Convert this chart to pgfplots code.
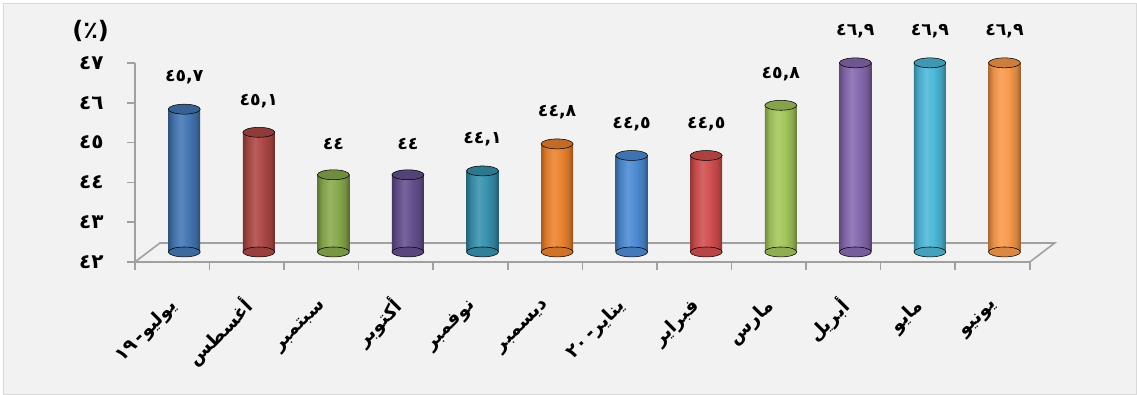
\documentclass[border=0pt]{standalone}
\usepackage{pgfplots}
\pgfplotsset{compat=1.18}
\usepackage{fontspec}
\newfontfamily\arabicfont[Script=Arabic]{DejaVu Sans}
\TeXXeTstate=1
\definecolor{bgc}{HTML}{F2F2F2}
\definecolor{framec}{HTML}{D9D9D9}
\definecolor{axc}{HTML}{A0A0A0}
\definecolor{c1}{HTML}{4577B4}
\definecolor{c2}{HTML}{AE4846}
\definecolor{c3}{HTML}{8AAA4E}
\definecolor{c4}{HTML}{65508F}
\definecolor{c5}{HTML}{3892AE}
\definecolor{c6}{HTML}{EC832F}
\definecolor{c7}{HTML}{4D8BD4}
\definecolor{c8}{HTML}{D24F4F}
\definecolor{c9}{HTML}{A4C65C}
\definecolor{c10}{HTML}{866AB0}
\definecolor{c11}{HTML}{4DB8D8}
\definecolor{c12}{HTML}{F99A4C}

\newcommand\mkshade[1]{%
  \pgfdeclarehorizontalshading{sh#1}{100bp}{%
    color(0bp)=(#1!70!black); color(25bp)=(#1!70!black);
    color(32bp)=(#1!92!black); color(44bp)=(#1!88!white);
    color(56bp)=(#1); color(68bp)=(#1!85!black);
    color(75bp)=(#1!62!black); color(100bp)=(#1!62!black)}}
\mkshade{c1}\mkshade{c2}\mkshade{c3}\mkshade{c4}\mkshade{c5}\mkshade{c6}
\mkshade{c7}\mkshade{c8}\mkshade{c9}\mkshade{c10}\mkshade{c11}\mkshade{c12}

% one cylinder: x, value, colour, label
\newcommand\cyl[4]{%
  \addplot[only marks, mark=*, mark size=12pt,
    mark options={yscale=0.31, draw=none, fill=#3!88!black}] coordinates {(#1,42)};
  \addplot[ybar, bar shift=0pt, bar width=24pt, draw=none,
    shade, shading=sh#3] coordinates {(#1,#2)};
  \addplot[only marks, mark=*, mark size=12pt,
    mark options={yscale=0.31, draw=none, fill=#3!82!black},
    point meta=explicit symbolic, nodes near coords,
    nodes near coords style={anchor=south, yshift=15pt, text=black,
      font=\arabicfont\bfseries\fontsize{13}{15}\selectfont}]
    coordinates {(#1,#2) [#4]};
}

\begin{document}
\begin{tikzpicture}
\fill[white] (0,0) rectangle (852.75pt,295.5pt);
\filldraw[fill=bgc, draw=framec] (2.25pt,0pt) rectangle (852.75pt,293.25pt);
\useasboundingbox (0,0) rectangle (852.75pt,295.5pt);

\node[font=\arabicfont\bfseries\fontsize{18}{20}\selectfont] at (68pt,272pt) {(٪)};

\begin{axis}[
  at={(101.25pt,99pt)}, anchor=south west,
  scale only axis, width=671.25pt, height=149.25pt,
  xmin=-0.5, xmax=11.5, ymin=42, ymax=47,
  axis x line*=bottom, axis y line*=left,
  axis line style={-, draw=axc, line width=1.2pt},
  tick align=outside, major tick length=6pt, minor tick length=6pt,
  every tick/.style={draw=axc, line width=1.2pt},
  ytick={42,...,47},
  yticklabels={٤٢,٤٣,٤٤,٤٥,٤٦,٤٧},
  yticklabel style={font=\arabicfont\bfseries\fontsize{15}{17}\selectfont, xshift=-14pt},
  xtick={0,...,11},
  minor xtick={-0.5,0.5,...,11.5},
  major x tick style={draw=none},
  xticklabels={{\hbox{١٩}\,-\hbox{\beginR يوليو\endR}},
    {\beginR أغسطس\endR}, {\beginR سبتمبر\endR}, {\beginR أكتوبر\endR},
    {\beginR نوفمبر\endR}, {\beginR ديسمبر\endR},
    {\hbox{٢٠}\,-\hbox{\beginR يناير\endR}},
    {\beginR فبراير\endR}, {\beginR مارس\endR}, {\beginR أبريل\endR},
    {\beginR مايو\endR}, {\beginR يونيو\endR}},
  xticklabel style={font=\arabicfont\bfseries\fontsize{14}{16}\selectfont,
    rotate=45, anchor=east, xshift=-13pt, yshift=-19pt},
  clip=false,
]
\draw[axc, line width=1.2pt]
  (axis cs:-0.5,42) -- ++(18.75pt,14.25pt)
  -- ([shift={(18.75pt,14.25pt)}]axis cs:11.5,42) -- (axis cs:11.5,42);
\end{axis}

\begin{axis}[
  at={(110.25pt,106.5pt)}, anchor=south west,
  scale only axis, width=671.25pt, height=144.75pt,
  xmin=-0.5, xmax=11.5, ymin=0, ymax=5,
  y filter/.expression={y-42},
  hide axis, clip=false,
]
\cyl{0}{45.7}{c1}{٤٥,٧}
\cyl{1}{45.1}{c2}{٤٥,١}
\cyl{2}{44}{c3}{٤٤}
\cyl{3}{44}{c4}{٤٤}
\cyl{4}{44.1}{c5}{٤٤,١}
\cyl{5}{44.8}{c6}{٤٤,٨}
\cyl{6}{44.5}{c7}{٤٤,٥}
\cyl{7}{44.5}{c8}{٤٤,٥}
\cyl{8}{45.8}{c9}{٤٥,٨}
\cyl{9}{46.9}{c10}{٤٦,٩}
\cyl{10}{46.9}{c11}{٤٦,٩}
\cyl{11}{46.9}{c12}{٤٦,٩}
\end{axis}
\end{tikzpicture}
\end{document}
